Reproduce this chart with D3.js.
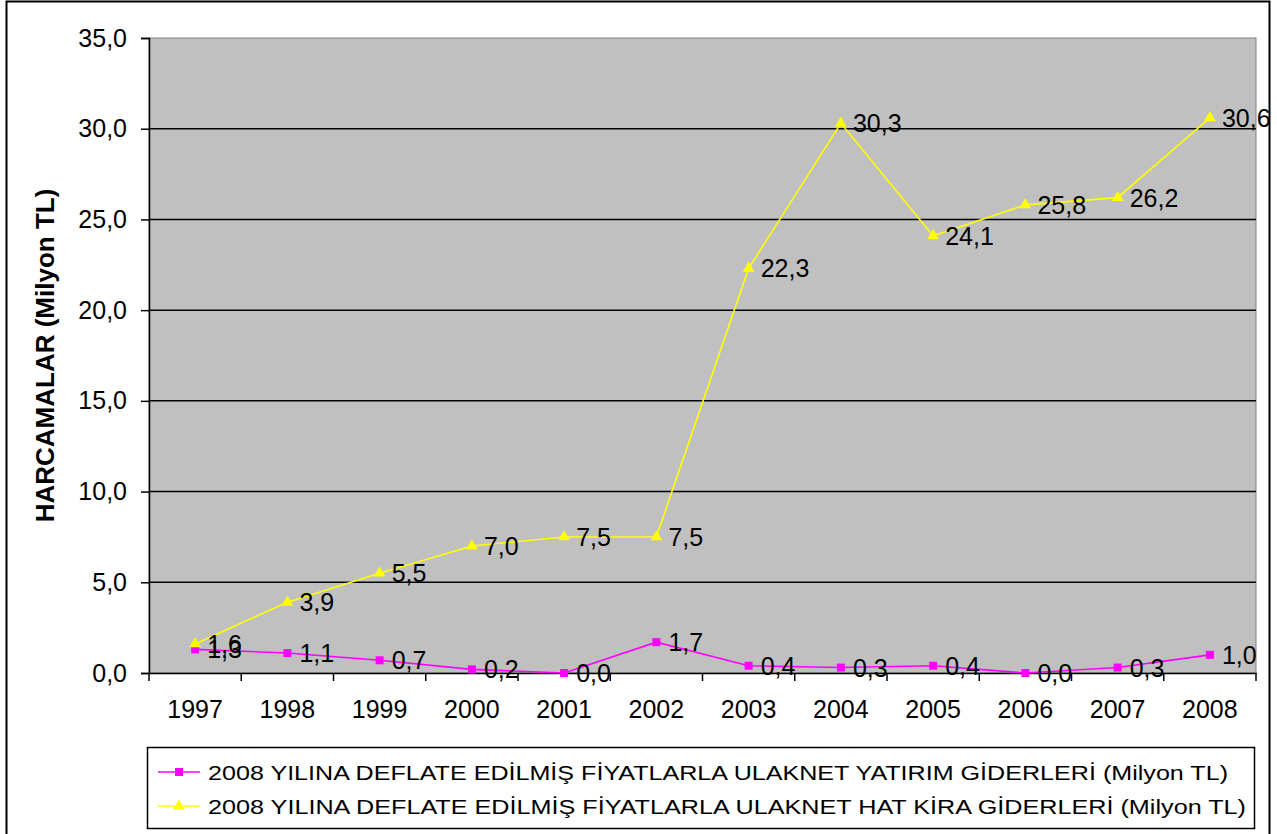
<!DOCTYPE html>
<html lang="tr">
<head>
<meta charset="UTF-8">
<title>ULAKNET giderleri</title>
<style>
  body { margin: 0; background: #fff; }
  text { font-family: Arial, "Liberation Sans", sans-serif; }
</style>
</head>
<body>
<svg id="chart" width="1277" height="834"></svg>
<script src="https://cdn.jsdelivr.net/npm/d3@7/dist/d3.min.js"></script>
<script>
const years = ["1997","1998","1999","2000","2001","2002","2003","2004","2005","2006","2007","2008"];
const yatirim = [1.3, 1.1, 0.7, 0.2, 0.0, 1.7, 0.4, 0.3, 0.4, 0.0, 0.3, 1.0];
const hatKira = [1.6, 3.9, 5.5, 7.0, 7.5, 7.5, 22.3, 30.3, 24.1, 25.8, 26.2, 30.6];
const yTicks = [0, 5, 10, 15, 20, 25, 30, 35];
const seriesNames = [
  "2008 YILINA DEFLATE EDİLMİŞ FİYATLARLA ULAKNET YATIRIM GİDERLERİ (Milyon TL)",
  "2008 YILINA DEFLATE EDİLMİŞ FİYATLARLA ULAKNET HAT KİRA GİDERLERİ (Milyon TL)"
];

const svg = d3.select("#chart");
const plot = { left: 149, right: 1256, top: 38, bottom: 673 };
const fmt = v => v.toFixed(1).replace(".", ",");

// outer frame
svg.append("rect").attr("x", 6.5).attr("y", 1.5).attr("width", 1263).attr("height", 840)
  .attr("fill", "#fff").attr("stroke", "#000").attr("stroke-width", 2);

const x = d3.scaleBand().domain(years).range([plot.left, plot.right]);
const y = d3.scaleLinear().domain([0, 35]).range([plot.bottom, plot.top]);

svg.append("rect").attr("x", plot.left).attr("y", plot.top)
  .attr("width", plot.right - plot.left).attr("height", plot.bottom - plot.top)
  .attr("fill", "#c0c0c0").attr("stroke", "#808080");

// gridlines
svg.append("g").selectAll("line").data(yTicks.filter(d => d > 0 && d < 35)).join("line")
  .attr("x1", plot.left).attr("x2", plot.right)
  .attr("y1", d => y(d)).attr("y2", d => y(d))
  .attr("stroke", "#000").attr("stroke-width", 1.5);

// y axis
const yAxis = svg.append("g").attr("transform", `translate(${plot.left},0)`)
  .call(d3.axisLeft(y).tickValues(yTicks).tickFormat(fmt).tickSize(8).tickPadding(14));
yAxis.selectAll("text").attr("font-size", 25).attr("fill", "#000").attr("font-family", "Arial, sans-serif");
yAxis.selectAll("line, path").attr("stroke", "#000").attr("stroke-width", 1.5);

// x axis
const xAxis = svg.append("g").attr("transform", `translate(0,${plot.bottom})`)
  .call(d3.axisBottom(x).tickSize(0).tickPadding(27));
xAxis.selectAll("text").attr("font-size", 25).attr("fill", "#000").attr("font-family", "Arial, sans-serif");
xAxis.select("path").attr("stroke", "#000").attr("stroke-width", 1.5);
xAxis.append("g").selectAll("line").data(years.concat(["end"])).join("line")
  .attr("x1", (d, i) => plot.left + i * x.bandwidth()).attr("x2", (d, i) => plot.left + i * x.bandwidth())
  .attr("y1", 0).attr("y2", 8).attr("stroke", "#000").attr("stroke-width", 1.5);

// y title
svg.append("text").attr("transform", `translate(54,${(plot.top + plot.bottom) / 2}) rotate(-90)`)
  .attr("text-anchor", "middle").attr("font-size", 26).attr("font-weight", "bold")
  .text("HARCAMALAR (Milyon TL)");

const cx = d => x(d) + x.bandwidth() / 2;
const line = d3.line().x(d => cx(d.year)).y(d => y(d.v));

const series = [
  { name: seriesNames[0], data: yatirim, color: "#ff00ff", shape: d3.symbolSquare, size: 64 },
  { name: seriesNames[1], data: hatKira, color: "#ffff00", shape: d3.symbolTriangle, size: 60 }
];

series.forEach(s => {
  const pts = years.map((yr, i) => ({ year: yr, v: s.data[i] }));
  svg.append("path").datum(pts).attr("d", line).attr("fill", "none")
    .attr("stroke", s.color).attr("stroke-width", 1.6);
  svg.append("g").selectAll("path").data(pts).join("path")
    .attr("transform", d => `translate(${cx(d.year)},${y(d.v)})`)
    .attr("d", d3.symbol().type(s.shape).size(s.size)).attr("fill", s.color);
});
series.forEach(s => {
  const pts = years.map((yr, i) => ({ year: yr, v: s.data[i] }));
  svg.append("g").selectAll("text").data(pts).join("text")
    .attr("x", d => cx(d.year) + 12).attr("y", d => y(d.v) + 9)
    .attr("font-size", 25).attr("fill", "#000").text(d => fmt(d.v));
});

// legend
const lg = svg.append("g");
lg.append("rect").attr("x", 147.5).attr("y", 747.5).attr("width", 1107).attr("height", 81)
  .attr("fill", "#fff").attr("stroke", "#000").attr("stroke-width", 1.5);
series.forEach((s, i) => {
  const ly = 772 + i * 34;
  lg.append("line").attr("x1", 158).attr("x2", 200).attr("y1", ly).attr("y2", ly)
    .attr("stroke", s.color).attr("stroke-width", 1.6);
  lg.append("path").attr("transform", `translate(179,${ly})`)
    .attr("d", d3.symbol().type(s.shape).size(s.size)).attr("fill", s.color);
  lg.append("text").attr("x", 208).attr("y", ly + 8).attr("font-size", 21)
    .attr("textLength", i === 0 ? 1020 : 1038).attr("lengthAdjust", "spacingAndGlyphs")
    .text(s.name);
});
</script>
</body>
</html>
